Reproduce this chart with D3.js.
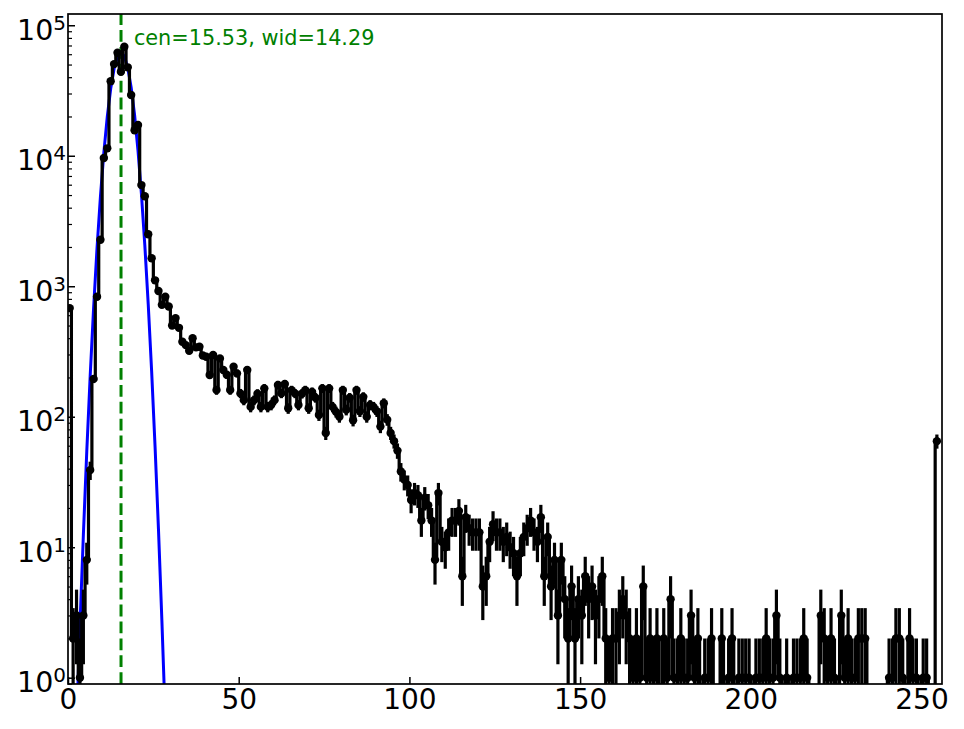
<!DOCTYPE html>
<html>
<head>
<meta charset="utf-8">
<script src="https://cdn.jsdelivr.net/npm/d3@7"></script>
<style>
  body { margin: 0; background: #fff; }
  svg { display: block; }
</style>
</head>
<body>
<div id="chart"></div>
<script>
// counts per unit bin, bin i is centred on i + 0.5
const counts = [
  680, 2, 3, 1, 3, 8, 39, 195, 830, 2270,
  9600, 11400, 37300, 50400, 61500, 44000, 68400, 47600, 29200, 15700,
  17200, 5960, 4900, 2500, 1640, 1110, 920, 720, 830, 700,
  500, 570, 480, 376, 354, 320, 399, 340, 344, 295,
  288, 209, 297, 160, 280, 228, 210, 160, 242, 215,
  151, 134, 228, 119, 134, 150, 119, 165, 119, 123,
  134, 175, 151, 178, 116, 160, 151, 123, 150, 160,
  116, 155, 140, 103, 165, 75, 165, 119, 109, 100,
  160, 113, 140, 94, 160, 110, 142, 100, 123, 119,
  110, 84, 127, 95, 75, 65, 55, 38, 33, 30,
  23, 26, 25, 16, 24, 21, 16, 8, 26, 11,
  10, 13, 16, 16, 19, 6, 17, 14, 13, 13,
  13, 5, 6, 11, 15, 13, 13, 11, 12, 10,
  9, 6, 9, 12, 14, 16, 13, 11, 17, 6,
  12, 5, 8, 3, 8, 4, 2, 5, 2, 4,
  3, 6, 4, 5, 3, 4, 6, 2, 1, 2,
  2, 3, 4, 3, 2, 1, 2, 1, 5, 1,
  2, 1, 2, 0, 2, 1, 4, 1, 1, 2,
  1, 1, 3, 1, 2, 0, 1, 1, 2, 0,
  0, 2, 0, 1, 2, 0, 1, 1, 1, 1,
  0, 1, 1, 1, 2, 1, 1, 3, 1, 0,
  1, 0, 1, 1, 1, 2, 1, 0, 0, 0,
  3, 2, 1, 2, 1, 0, 3, 1, 2, 1,
  1, 2, 2, 2, 0, 0, 0, 0, 0, 0,
  1, 1, 2, 2, 1, 0, 2, 1, 1, 0,
  1, 1, 0, 0, 65
];

// gaussian fit, sampled at the bin centres 0.5 .. 30.5
const fitY = [
  0.0085, 0.065, 0.43, 2.48, 12.4, 54.3, 206, 681, 1952, 4867,
  10550, 19890, 32610, 46470, 57560, 62000, 58050, 47260, 33440, 20580,
  11010, 5121, 2069, 728, 222.5, 59.1, 13.7, 2.74, 0.48, 0.073, 0.0096
];
const fitCen = 15.53;
const fitWid = 14.29;

const xTicks = [0, 50, 100, 150, 200, 250];
const yTicks = [1, 10, 100, 1000, 10000, 100000];

const W = 964, H = 729;
const plotL = 68, plotR = 942, plotT = 14, plotB = 684;

const x = d3.scaleLinear().domain([0, 256]).range([plotL, plotR]);
const y = d3.scaleLog().domain([0.895, 1.22e5]).range([plotB, plotT]);
const floor = 1e-6; // stand-in for empty bins on the log axis

const bins = counts.map((c, i) => ({ x: i + 0.5, c: c }));
const fit = fitY.map((v, i) => ({ x: i + 0.5, v: v }));

const svg = d3.select("#chart").append("svg")
    .attr("width", W)
    .attr("height", H)
    .style("font-family", "'DejaVu Sans', sans-serif");

svg.append("defs").append("clipPath")
    .attr("id", "plot-clip")
  .append("rect")
    .attr("x", plotL)
    .attr("y", plotT)
    .attr("width", plotR - plotL)
    .attr("height", plotB - plotT);

const plot = svg.append("g").attr("clip-path", "url(#plot-clip)");

// fit curve
plot.append("path")
    .datum(fit)
    .attr("fill", "none")
    .attr("stroke", "#0000ff")
    .attr("stroke-width", 3)
    .attr("d", d3.line().x(d => x(d.x)).y(d => y(Math.max(d.v, floor))));

// centre marker
plot.append("line")
    .attr("x1", x(fitCen)).attr("x2", x(fitCen))
    .attr("y1", plotB).attr("y2", plotT)
    .attr("stroke", "#008000")
    .attr("stroke-width", 3)
    .attr("stroke-dasharray", "11.8,5.1");

// data: step line, poisson error bars, markers
plot.append("path")
    .datum(bins)
    .attr("fill", "none")
    .attr("stroke", "#000")
    .attr("stroke-width", 3.2)
    .attr("d", d3.line().curve(d3.curveStep).x(d => x(d.x)).y(d => y(Math.max(d.c, floor))));

const filled = bins.filter(d => d.c > 0);

plot.append("g").selectAll("line")
    .data(filled)
    .join("line")
    .attr("x1", d => x(d.x)).attr("x2", d => x(d.x))
    .attr("y1", d => y(Math.max(d.c - Math.sqrt(d.c), floor)))
    .attr("y2", d => y(d.c + Math.sqrt(d.c)))
    .attr("stroke", "#000")
    .attr("stroke-width", 3.2);

plot.append("g").selectAll("circle")
    .data(filled)
    .join("circle")
    .attr("cx", d => x(d.x))
    .attr("cy", d => y(d.c))
    .attr("r", 4.2)
    .attr("fill", "#000");

// label
svg.append("text")
    .attr("x", x(19.3))
    .attr("y", 44.5)
    .attr("fill", "#008000")
    .attr("font-size", 20.8)
    .text(`cen=${fitCen.toFixed(2)}, wid=${fitWid.toFixed(2)}`);

// x axis, ticks pointing in
const xAxis = svg.append("g")
    .attr("transform", `translate(0,${plotB})`)
    .call(d3.axisBottom(x).tickValues(xTicks).tickSizeInner(-7).tickSizeOuter(0).tickPadding(5));
xAxis.select(".domain").remove();
xAxis.attr("font-size", 28).attr("font-family", null);
xAxis.selectAll(".tick line").attr("stroke-width", 1.5);

// y axis, log decades as 10^n
const yAxis = svg.append("g")
    .attr("transform", `translate(${plotL},0)`)
    .call(d3.axisLeft(y).tickValues(yTicks).tickSizeInner(-7).tickSizeOuter(0).tickPadding(2));
yAxis.select(".domain").remove();
yAxis.attr("font-size", 28.5).attr("font-family", null);
yAxis.selectAll(".tick line").attr("stroke-width", 1.5);
yAxis.selectAll(".tick text")
    .attr("dy", 14)
    .text(null)
    .each(function(d) {
      const t = d3.select(this);
      t.append("tspan").text("10");
      t.append("tspan")
          .attr("dy", -9.8)
          .attr("font-size", 20)
          .text(Math.round(Math.log10(d)));
    });

// minor log ticks
const minor = y.ticks().filter(v => Math.abs(Math.log10(v) - Math.round(Math.log10(v))) > 1e-9);
const yMinor = svg.append("g")
    .attr("transform", `translate(${plotL},0)`)
    .call(d3.axisLeft(y).tickValues(minor).tickSizeInner(-4).tickSizeOuter(0).tickFormat(""));
yMinor.select(".domain").remove();
yMinor.selectAll(".tick line").attr("stroke-width", 1.2);

// frame
svg.append("rect")
    .attr("x", plotL)
    .attr("y", plotT)
    .attr("width", plotR - plotL)
    .attr("height", plotB - plotT)
    .attr("fill", "none")
    .attr("stroke", "#000")
    .attr("stroke-width", 1.7);
</script>
</body>
</html>
